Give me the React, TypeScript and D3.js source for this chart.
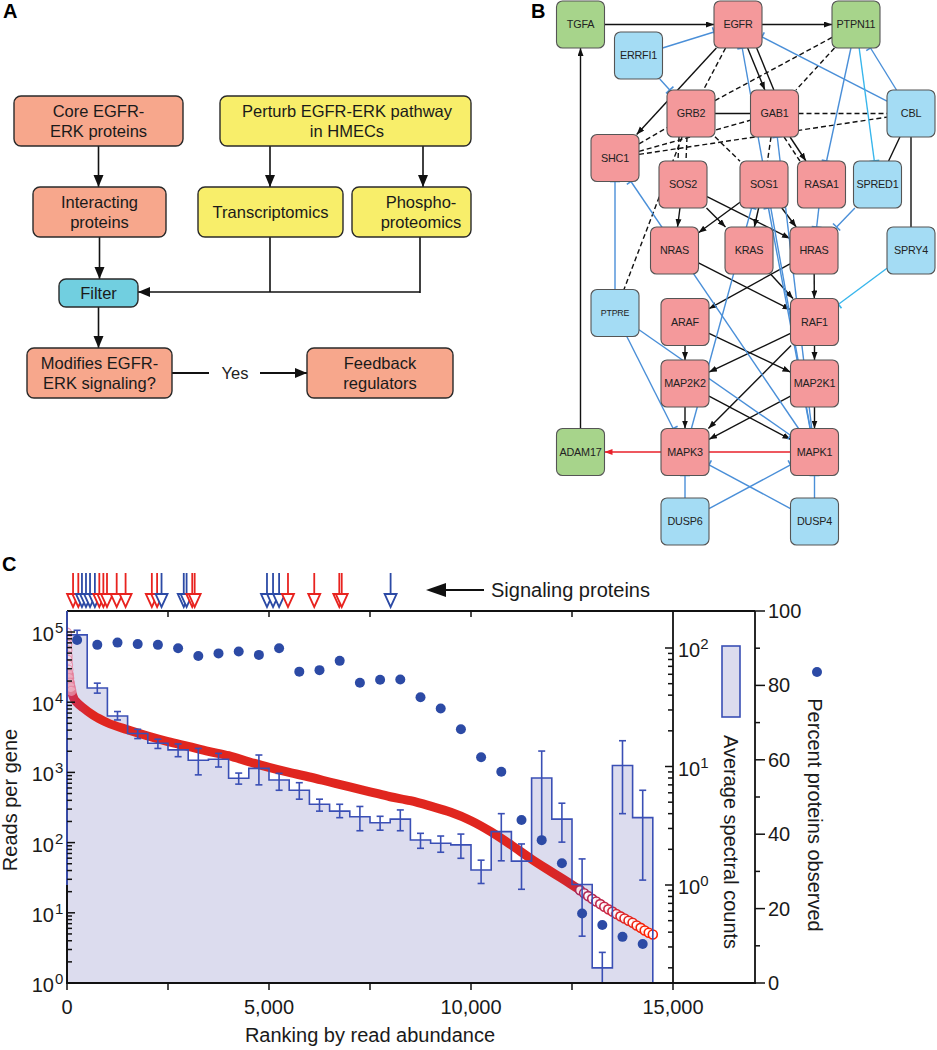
import React from 'react';
import * as d3 from 'd3';

const FONT = "'Liberation Sans', Arial, Helvetica, sans-serif";

// ================= Panel C data =================
const binStartRanks = [0, 500, 1000, 1500, 2000, 2500, 3000, 3500, 4000, 4500, 5000, 5500, 6000, 6500, 7000, 7500, 8000, 8500, 9000, 9500, 10000, 10500, 11000, 11500, 12000, 12500, 13000, 13500, 14000];
const binWidth = 500;
const spectralMean = [129, 46, 26.7, 19.0, 15.7, 13.8, 11.3, 11.5, 7.95, 9.65, 7.7, 6.3, 4.8, 4.2, 3.77, 3.35, 3.6, 2.4, 2.25, 2.18, 1.34, 2.82, 1.59, 8.0, 3.6, 1.01, 0.2, 10.2, 3.7];
const spectralHigh = [141, 50.5, 29.1, 20.6, 17.0, 15.5, 14.2, 12.9, 8.8, 12.5, 8.75, 7.3, 5.3, 4.8, 4.6, 3.8, 4.3, 2.73, 2.59, 2.69, 1.62, 4.0, 2.22, 13.5, 4.9, 1.66, 0.27, 16.5, 6.3];
const spectralLow = [117, 41.6, 24.7, 17.2, 14.2, 12.1, 8.5, 9.9, 7.1, 7.0, 6.3, 5.3, 4.2, 3.7, 2.87, 2.9, 2.87, 2.04, 1.89, 1.68, 1.03, 1.6, 0.92, 2.43, 2.3, 0.37, 0.1, 4.0, 1.1];
const percentObserved = [92.2, 90.9, 91.5, 91.1, 90.9, 90.0, 87.9, 88.6, 89.1, 88.2, 90.0, 83.7, 84.1, 86.6, 80.7, 81.5, 81.6, 76.8, 73.8, 68.2, 60.7, 56.8, 43.8, 38.4, 32.2, 18.7, 15.6, 12.4, 10.5];

const readRanks = [0, 3, 6, 10, 15, 20, 27, 35, 45, 55, 70, 90, 110, 140, 180, 240, 400, 650, 1000, 1500, 2000, 2500, 3000, 3500, 4000, 4500, 5000, 5500, 6000, 6500, 7000, 7500, 8000, 8500, 9000, 9500, 10000, 10500, 11000, 11500, 12000, 12500, 12700, 12800, 12900, 13000, 13100, 13200, 13300, 13400, 13500, 13600, 13700, 13800, 13900, 14000, 14100, 14200, 14300, 14400, 14500];
const readsPerGene = [98000, 80000, 66000, 55000, 46000, 40000, 34000, 29000, 25000, 22000, 19000, 16500, 14500, 12500, 11000, 10000, 8300, 6500, 5100, 4050, 3300, 2750, 2350, 2000, 1730, 1420, 1180, 1000, 860, 730, 620, 530, 450, 395, 330, 270, 205, 142, 92, 58, 38, 25, 21, 19, 17.3, 15.8, 14.5, 13.3, 12.2, 11.2, 10.4, 9.6, 8.9, 8.3, 7.7, 7.2, 6.6, 6.1, 5.6, 5.2, 4.9];

const signalingRanks = [150, 280, 370, 470, 570, 690, 800, 900, 990, 1230, 1450, 2100, 2230, 2340, 2890, 2960, 3100, 3160, 4950, 5100, 5250, 5470, 6120, 6740, 6800, 8010];
const signalingGroup = ['r', 'r', 'b', 'b', 'b', 'b', 'r', 'r', 'r', 'r', 'r', 'r', 'r', 'b', 'b', 'b', 'r', 'r', 'b', 'b', 'b', 'r', 'r', 'r', 'r', 'b'];

const xLabelTicks = [0, 5000, 10000, 15000];
const xLabelText = ['0', '5,000', '10,000', '15,000'];
const xMinorTicks = [0, 2500, 5000, 7500, 10000, 12500, 15000];
const readDecades = [0, 1, 2, 3, 4, 5];
const specDecades = [0, 1, 2];
const pctTicks = [0, 10, 20, 30, 40, 50, 60, 70, 80, 90, 100];

// ================= Panel B data =================
const nodeNames = ['TGFA', 'EGFR', 'PTPN11', 'ERRFI1', 'GRB2', 'GAB1', 'CBL', 'SHC1', 'SOS2', 'SOS1', 'RASA1', 'SPRED1', 'NRAS', 'KRAS', 'HRAS', 'SPRY4', 'PTPRE', 'ARAF', 'RAF1', 'MAP2K2', 'MAP2K1', 'ADAM17', 'MAPK3', 'MAPK1', 'DUSP6', 'DUSP4'];
const nodeKind: Record<string, string> = {
  TGFA: 'g', PTPN11: 'g', ADAM17: 'g',
  ERRFI1: 'b', CBL: 'b', SPRED1: 'b', SPRY4: 'b', PTPRE: 'b', DUSP6: 'b', DUSP4: 'b',
};
// edges: [from, to, type, fromOffsetX, toOffsetX]
const edges: [string, string, string, number?, number?][] = [
  ['TGFA', 'EGFR', 'act'], ['EGFR', 'PTPN11', 'act'], ['ADAM17', 'TGFA', 'act'],
  ['EGFR', 'SHC1', 'act'], ['EGFR', 'GAB1', 'act'], ['EGFR', 'GAB1', 'line', 9, 9],
  ['GAB1', 'RASA1', 'act'], ['GAB1', 'RASA1', 'bind', -6, -6],
  ['SOS2', 'NRAS', 'act'], ['SOS2', 'KRAS', 'act'], ['SOS2', 'HRAS', 'act'],
  ['SOS1', 'NRAS', 'act'], ['SOS1', 'KRAS', 'act'], ['SOS1', 'HRAS', 'act'],
  ['NRAS', 'RAF1', 'act'], ['KRAS', 'RAF1', 'act'], ['HRAS', 'RAF1', 'act'], ['HRAS', 'ARAF', 'act'],
  ['ARAF', 'MAP2K2', 'act'], ['ARAF', 'MAP2K1', 'act'], ['RAF1', 'MAP2K2', 'act'], ['RAF1', 'MAP2K1', 'act'],
  ['RAF1', 'MAPK3', 'act'], ['MAP2K2', 'MAPK3', 'act'], ['MAP2K2', 'MAPK1', 'act'],
  ['MAP2K1', 'MAPK3', 'act'], ['MAP2K1', 'MAPK1', 'act'],
  ['GRB2', 'GAB1', 'line'], ['CBL', 'SPRED1', 'line'], ['CBL', 'SPRY4', 'line'],
  ['EGFR', 'GRB2', 'bind'], ['PTPN11', 'GRB2', 'bind'], ['PTPN11', 'GAB1', 'bind'],
  ['SHC1', 'GRB2', 'bind'], ['SHC1', 'GAB1', 'bind'], ['SHC1', 'CBL', 'bind'], ['GAB1', 'CBL', 'bind'],
  ['GRB2', 'SOS2', 'bind', -11, -6], ['GRB2', 'SOS2', 'bind', -3, 2], ['GRB2', 'SOS1', 'bind'],
  ['GAB1', 'SOS1', 'bind'], ['GRB2', 'PTPRE', 'bind'],
  ['ERRFI1', 'EGFR', 'inh'], ['ERRFI1', 'GRB2', 'inh'], ['CBL', 'EGFR', 'inh'], ['CBL', 'PTPN11', 'inh'],
  ['PTPN11', 'RASA1', 'inh'], ['RASA1', 'HRAS', 'inh'], ['SPRED1', 'HRAS', 'inh'],
  ['PTPRE', 'SHC1', 'inh'], ['MAPK1', 'SHC1', 'inh'], ['PTPRE', 'MAPK3', 'inh'], ['PTPRE', 'MAPK1', 'inh'],
  ['MAPK3', 'SOS1', 'inh', 0, -6], ['MAPK1', 'EGFR', 'inh'], ['MAPK1', 'GAB1', 'inh'], ['MAPK1', 'SOS1', 'inh'],
  ['DUSP6', 'MAPK3', 'inh'], ['DUSP6', 'MAPK1', 'inh'], ['DUSP4', 'MAPK1', 'inh'], ['DUSP4', 'MAPK3', 'inh'],
  ['PTPN11', 'SPRED1', 'inhc'], ['SPRY4', 'RAF1', 'inhc'],
  ['MAPK1', 'MAPK3', 'redline'], ['MAPK3', 'ADAM17', 'red'],
];

// ================= Panel A data =================
const flowBoxes = [
  { id: 'core', lines: ['Core EGFR-', 'ERK proteins'], kind: 's' },
  { id: 'perturb', lines: ['Perturb EGFR-ERK pathway', 'in HMECs'], kind: 'y' },
  { id: 'interact', lines: ['Interacting', 'proteins'], kind: 's' },
  { id: 'trans', lines: ['Transcriptomics'], kind: 'y' },
  { id: 'phospho', lines: ['Phospho-', 'proteomics'], kind: 'y' },
  { id: 'filter', lines: ['Filter'], kind: 'c' },
  { id: 'modifies', lines: ['Modifies EGFR-', 'ERK signaling?'], kind: 's' },
  { id: 'feedback', lines: ['Feedback', 'regulators'], kind: 's' },
];

// layout (positions) for panels A and B
const flowLayout: Record<string, { x: number; y: number; w: number; h: number; tx?: number }> = {
  core: { x: 14, y: 96, w: 169, h: 50 },
  perturb: { x: 220, y: 96, w: 251, h: 50, tx: 347 },
  interact: { x: 33, y: 187, w: 133, h: 50 },
  trans: { x: 198, y: 187, w: 145, h: 50 },
  phospho: { x: 352, y: 187, w: 119, h: 50, tx: 421 },
  filter: { x: 59, y: 279, w: 79, h: 28 },
  modifies: { x: 27, y: 348, w: 145, h: 50 },
  feedback: { x: 307, y: 348, w: 146, h: 50 },
};
const nodePos: Record<string, [number, number]> = {
  TGFA: [580.5, 24.5], EGFR: [738, 24.5], PTPN11: [856, 24.5], ERRFI1: [638.5, 55.5],
  GRB2: [691, 113.5], GAB1: [774.5, 113.5], CBL: [911, 113.5], SHC1: [615, 158],
  SOS2: [683, 184.5], SOS1: [764, 184.5], RASA1: [821.5, 184.5], SPRED1: [877.5, 184.5],
  NRAS: [674.5, 250.5], KRAS: [749, 250.5], HRAS: [814, 250.5], SPRY4: [911, 250.5],
  PTPRE: [615, 313], ARAF: [685, 322], RAF1: [814.5, 322], MAP2K2: [685, 383.5], MAP2K1: [814.5, 383.5],
  ADAM17: [580.5, 452], MAPK3: [685, 452], MAPK1: [814.5, 452], DUSP6: [685, 521.5], DUSP4: [814.5, 521.5],
};
const NW = 48, NH = 47;

function exitParam(sx: number, sy: number, dx: number, dy: number, cx: number, cy: number) {
  let u = Infinity;
  if (dx > 0) u = Math.min(u, (cx + NW / 2 - sx) / dx);
  else if (dx < 0) u = Math.min(u, (cx - NW / 2 - sx) / dx);
  if (dy > 0) u = Math.min(u, (cy + NH / 2 - sy) / dy);
  else if (dy < 0) u = Math.min(u, (cy - NH / 2 - sy) / dy);
  return u;
}

function PanelA() {
  const fills: Record<string, string> = { s: '#f7a78c', y: '#f8ee6a', c: '#71cfe0' };
  const L = flowLayout;
  const cx = (id: string) => L[id].x + L[id].w / 2;
  const arrows: [number, number, number, number][] = [
    [cx('core'), L.core.y + L.core.h, cx('core'), L.interact.y],
    [270, L.perturb.y + L.perturb.h, 270, L.trans.y],
    [423, L.perturb.y + L.perturb.h, 423, L.phospho.y],
    [cx('interact'), L.interact.y + L.interact.h, cx('interact'), L.filter.y],
    [cx('filter'), L.filter.y + L.filter.h, cx('filter'), L.modifies.y],
    [260, 373, L.feedback.x, 373],
    [420, 292, L.filter.x + L.filter.w, 292],
  ];
  return (
    <g fontFamily={FONT}>
      <text x={3} y={18} fontSize={20} fontWeight="bold">A</text>
      <line x1={270} y1={237} x2={270} y2={292} stroke="#111" strokeWidth={1.6} />
      <line x1={420} y1={237} x2={420} y2={293} stroke="#111" strokeWidth={1.6} />
      <line x1={L.modifies.x + L.modifies.w} y1={373} x2={209} y2={373} stroke="#111" strokeWidth={2.2} />
      {arrows.map((a, i) => (
        <line key={i} x1={a[0]} y1={a[1]} x2={a[2]} y2={a[3]} stroke="#111" strokeWidth={i === 5 ? 2.2 : 1.6} markerEnd="url(#bigArrow)" />
      ))}
      <text x={235} y={379} fontSize={16.5} textAnchor="middle" fill="#222">Yes</text>
      {flowBoxes.map((b) => {
        const l = L[b.id];
        const tx = l.tx ?? l.x + l.w / 2;
        const n = b.lines.length;
        const cy = l.y + l.h / 2;
        return (
          <g key={b.id}>
            <rect x={l.x} y={l.y} width={l.w} height={l.h} rx={7} fill={fills[b.kind]} stroke="#2a2a2a" strokeWidth={1.4} />
            {b.lines.map((t, i) => (
              <text key={i} x={tx} y={cy + (i - (n - 1) / 2) * 20 + 6} fontSize={16.5} textAnchor="middle" fill="#1a1a1a">{t}</text>
            ))}
          </g>
        );
      })}
    </g>
  );
}

function PanelB() {
  const fills: Record<string, string> = { g: '#a7d48b', b: '#a4dcf4', p: '#f4999b' };
  const colors: Record<string, string> = { act: '#111', line: '#111', bind: '#111', inh: '#4a8fd8', inhc: '#38b6ec', red: '#e8202a', redline: '#e8202a' };
  return (
    <g fontFamily={FONT}>
      <text x={531} y={18} fontSize={20} fontWeight="bold">B</text>
      {edges.map((e, i) => {
        const [f, t, type, fo = 0, to = 0] = e;
        const [fx, fy] = nodePos[f];
        const [tx, ty] = nodePos[t];
        const sx = fx + fo, sy = fy, ex = tx + to, ey = ty;
        const dx = ex - sx, dy = ey - sy;
        const u1 = exitParam(sx, sy, dx, dy, fx, fy);
        const u2 = exitParam(ex, ey, -dx, -dy, tx, ty);
        const x1 = sx + u1 * dx, y1 = sy + u1 * dy;
        const x2 = ex - u2 * dx, y2 = ey - u2 * dy;
        const len = Math.hypot(dx, dy);
        const px = -dy / len, py = dx / len;
        const col = colors[type];
        const isInh = type === 'inh' || type === 'inhc';
        return (
          <g key={i}>
            <line x1={x1} y1={y1} x2={x2} y2={y2} stroke={col} strokeWidth={1.4}
              strokeDasharray={type === 'bind' ? '5 3' : undefined}
              markerEnd={type === 'act' ? 'url(#smallArrow)' : type === 'red' ? 'url(#redArrow)' : undefined} />
            {isInh && (
              <line x1={x2 + px * 5} y1={y2 + py * 5} x2={x2 - px * 5} y2={y2 - py * 5} stroke={col} strokeWidth={1.6} />
            )}
          </g>
        );
      })}
      {nodeNames.map((n) => {
        const [cx, cy] = nodePos[n];
        return (
          <g key={n}>
            <rect x={cx - NW / 2} y={cy - NH / 2} width={NW} height={NH} rx={6} fill={fills[nodeKind[n] ?? 'p']} stroke="#555" strokeWidth={1.1} />
            <text x={cx} y={cy} dy="0.36em" textAnchor="middle" fontSize={n === 'PTPRE' ? 8.8 : 10.8} fill="#222" letterSpacing={-0.2}>{n}</text>
          </g>
        );
      })}
    </g>
  );
}

function PanelC() {
  const left = 67, mid = 673, right = 755, top = 611, bottom = 983;
  const x = d3.scaleLinear().domain([0, 15000]).range([left, mid]);
  const yReads = d3.scaleLog().domain([1, 1e5]).range([bottom, 632]);
  const ySpec = d3.scaleLog().domain([1, 100]).range([885, 648]);
  const yPct = d3.scaleLinear().domain([0, 100]).range([bottom, top]);

  const readTicks = d3.scaleLog().domain([1, 1e5]).ticks();
  const specTickScale = d3.scaleLog().domain([ySpec.invert(bottom), ySpec.invert(top)]);
  const specTicks = specTickScale.ticks().filter((t) => ySpec(t) <= bottom - 2 && ySpec(t) >= top + 2);
  const isDecade = (t: number) => Math.abs(Math.log10(t) - Math.round(Math.log10(t))) < 1e-6;

  const lastEnd = binStartRanks[binStartRanks.length - 1] + binWidth;
  let steps = '';
  binStartRanks.forEach((s, i) => {
    steps += `L${x(s)},${ySpec(spectralMean[i])}L${x(s + binWidth)},${ySpec(spectralMean[i])}`;
  });
  const stepD = `M${x(0)},${ySpec(1)}` + steps + `L${x(lastEnd)},${bottom}`;
  const areaD = `M${x(0)},${bottom}` + steps + `L${x(lastEnd)},${bottom}Z`;

  const idx = readRanks.map((_, i) => i);
  const bandIdx = idx.filter((i) => readRanks[i] >= 45 && readRanks[i] <= 12700);
  const headIdx = idx.filter((i) => readRanks[i] <= 110);
  const tailIdx = idx.filter((i) => readRanks[i] >= 12700);
  const band = d3.line<number>().x((i) => x(readRanks[i])).y((i) => yReads(readsPerGene[i])).curve(d3.curveMonotoneX);
  const tailColor = d3.scaleLinear<string>().domain([12700, 13300, 13900]).range(['#a8285a', '#c4284a', '#e4241f']);
  const sigColor = (g: string) => (g === 'r' ? '#e8231f' : '#2c4aa5');
  const blue = '#2c4aa5';
  const stepBlue = '#3a4fb5';

  const sup = (base: string, e: number | string) => (
    <>{base}<tspan dy={-8} fontSize={15}>{e}</tspan></>
  );

  return (
    <g fontFamily={FONT}>
      <defs>
        <clipPath id="plotClip"><rect x={left} y={top} width={mid - left} height={bottom - top} /></clipPath>
        <linearGradient id="bandGrad" gradientUnits="userSpaceOnUse" x1={left} x2={mid} y1={0} y2={0}>
          <stop offset="0" stopColor="#c8325e" />
          <stop offset="0.04" stopColor="#e0261f" />
          <stop offset="0.78" stopColor="#e0261f" />
          <stop offset="0.96" stopColor="#a8285a" />
        </linearGradient>
      </defs>
      <text x={2} y={571} fontSize={20} fontWeight="bold">C</text>

      {/* signaling arrows */}
      {signalingRanks.map((r, i) => {
        const cx = x(r);
        const c = sigColor(signalingGroup[i]);
        return (
          <g key={i}>
            <line x1={cx} y1={573} x2={cx} y2={594} stroke={c} strokeWidth={1.8} />
            <path d={`M${cx - 6},594L${cx + 6},594L${cx},607Z`} fill="#fff" stroke={c} strokeWidth={1.8} strokeLinejoin="miter" />
          </g>
        );
      })}
      <path d="M426,590L446,583L446,597Z" fill="#111" />
      <line x1={445} y1={590} x2={484} y2={590} stroke="#111" strokeWidth={2} />
      <text x={491} y={597} fontSize={20} fill="#1a1a1a">Signaling proteins</text>

      {/* histogram fill */}
      <path d={areaD} fill="#dcdcee" />

      {/* red band */}
      <g clipPath="url(#plotClip)">
        <path d={band(bandIdx) ?? ''} fill="none" stroke="url(#bandGrad)" strokeWidth={9} strokeLinecap="round" />
        {tailIdx.map((i) => (
          <circle key={i} cx={x(readRanks[i])} cy={yReads(readsPerGene[i])} r={4.5} fill="rgba(255,255,255,0.85)" stroke={tailColor(readRanks[i])} strokeWidth={1.6} />
        ))}
        {headIdx.map((i) => (
          <circle key={i} cx={x(readRanks[i])} cy={yReads(readsPerGene[i])} r={4.5} fill="rgba(248,220,232,0.55)" stroke="#e88aa6" strokeWidth={1.2} opacity={0.85} />
        ))}
      </g>

      {/* histogram step + error bars */}
      <g clipPath="url(#plotClip)">
        <path d={stepD} fill="none" stroke={stepBlue} strokeWidth={1.6} />
        {binStartRanks.map((s, i) => {
          const cx = x(s + binWidth / 2);
          const y1 = ySpec(spectralHigh[i]);
          const y2 = ySpec(spectralLow[i]);
          return (
            <g key={i} stroke={stepBlue} strokeWidth={1.6}>
              <line x1={cx} x2={cx} y1={y1} y2={y2} />
              <line x1={cx - 3.5} x2={cx + 3.5} y1={y1} y2={y1} />
              <line x1={cx - 3.5} x2={cx + 3.5} y1={y2} y2={y2} />
            </g>
          );
        })}
      </g>

      {/* percent dots */}
      {binStartRanks.map((s, i) => (
        <circle key={i} cx={x(s + binWidth / 2)} cy={yPct(percentObserved[i])} r={5} fill={blue} />
      ))}

      {/* frame & axes */}
      <g stroke="#111" strokeWidth={1.8} fill="none">
        <line x1={left} y1={top} x2={right} y2={top} />
        <line x1={left} y1={top} x2={left} y2={bottom} />
        <line x1={left - 1} y1={bottom} x2={right + 1} y2={bottom} />
        <line x1={mid} y1={top} x2={mid} y2={bottom} />
        <line x1={right} y1={top} x2={right} y2={bottom} />
      </g>
      <line x1={left} y1={yReads(1)} x2={left} y2={ySpec(1)} stroke="#111" strokeWidth={1.8} />
      <line x1={left} y1={ySpec(1)} x2={left} y2={top} stroke={stepBlue} strokeWidth={1.8} />
      <g stroke="#111" strokeWidth={1.5}>
        {readTicks.map((t, i) => (
          <line key={i} x1={left} x2={left + (isDecade(t) ? 8 : 5)} y1={yReads(t)} y2={yReads(t)} />
        ))}
        {specTicks.map((t, i) => (
          <line key={i} x1={mid} x2={mid - (isDecade(t) ? 8 : 5)} y1={ySpec(t)} y2={ySpec(t)} />
        ))}
        {pctTicks.map((t, i) => (
          <line key={i} x1={right} x2={right + (t % 20 === 0 ? 10 : 5)} y1={yPct(t)} y2={yPct(t)} />
        ))}
        {xMinorTicks.map((t, i) => (
          <line key={i} x1={x(t)} x2={x(t)} y1={bottom} y2={bottom + 7} />
        ))}
        {xMinorTicks.filter((t) => t > 0 && t < 15000).map((t, i) => (
          <line key={i} x1={x(t)} x2={x(t)} y1={top} y2={top + 6} />
        ))}
      </g>

      {/* tick labels */}
      <g fontSize={20} fill="#1a1a1a">
        {readDecades.map((d) => (
          <text key={d} x={54} y={yReads(Math.pow(10, d)) + 9} textAnchor="end">{sup('10', '')}</text>
        ))}
        {readDecades.map((d) => (
          <text key={'s' + d} x={55} y={yReads(Math.pow(10, d)) + 1} fontSize={15}>{d}</text>
        ))}
        {specDecades.map((d) => (
          <text key={d} x={678} y={ySpec(Math.pow(10, d)) + 9}>10<tspan dy={-8} fontSize={15}>{d}</tspan></text>
        ))}
        {pctTicks.filter((t) => t % 20 === 0).map((t) => (
          <text key={t} x={768} y={yPct(t) + 7}>{t}</text>
        ))}
        {xLabelTicks.map((t, i) => (
          <text key={t} x={x(t)} y={1014} textAnchor="middle">{xLabelText[i]}</text>
        ))}
      </g>

      {/* axis titles */}
      <text x={370} y={1042} fontSize={20} textAnchor="middle" fill="#1a1a1a">Ranking by read abundance</text>
      <text transform="translate(17,800) rotate(-90)" fontSize={20} textAnchor="middle" fill="#1a1a1a">Reads per gene</text>
      <rect x={722} y={646} width={18} height={71} fill="#dcdcee" stroke={stepBlue} strokeWidth={1.6} />
      <text transform="translate(724,842) rotate(90)" fontSize={20} textAnchor="middle" fill="#1a1a1a">Average spectral counts</text>
      <circle cx={817} cy={672} r={5} fill={blue} />
      <text transform="translate(808,815) rotate(90)" fontSize={20} textAnchor="middle" fill="#1a1a1a">Percent proteins observed</text>
    </g>
  );
}

export default function App() {
  return (
    <svg width={937} height={1050} viewBox="0 0 937 1050" style={{ position: 'absolute', left: 0, top: 0, background: '#fff' }}>
      <defs>
        <marker id="bigArrow" markerUnits="userSpaceOnUse" markerWidth={13} markerHeight={11} refX={12} refY={5} orient="auto">
          <path d="M0,0L12,5L0,10Z" fill="#111" />
        </marker>
        <marker id="smallArrow" markerUnits="userSpaceOnUse" markerWidth={9} markerHeight={7} refX={8} refY={3} orient="auto">
          <path d="M0,0L8,3L0,6Z" fill="#111" />
        </marker>
        <marker id="redArrow" markerUnits="userSpaceOnUse" markerWidth={9} markerHeight={7} refX={8} refY={3} orient="auto">
          <path d="M0,0L8,3L0,6Z" fill="#e8202a" />
        </marker>
      </defs>
      <rect x={0} y={0} width={937} height={1050} fill="#fff" />
      <PanelA />
      <PanelB />
      <PanelC />
    </svg>
  );
}
